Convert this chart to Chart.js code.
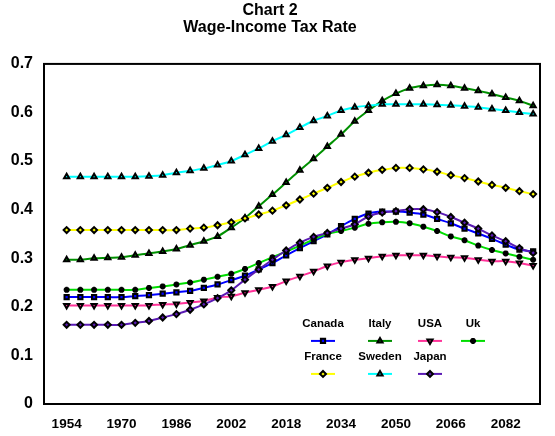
<!DOCTYPE html>
<html>
<head>
<meta charset="utf-8">
<script src="https://cdn.jsdelivr.net/npm/chart.js@4.4.1/dist/chart.umd.min.js"></script>
<style>
  html, body { margin: 0; padding: 0; background: #fff; }
</style>
</head>
<body>
<canvas id="stats" width="555" height="436"></canvas>
<script>
var years = [1954, 1958, 1962, 1966, 1970, 1974, 1978, 1982, 1986, 1990, 1994, 1998,
             2002, 2006, 2010, 2014, 2018, 2022, 2026, 2030, 2034, 2038, 2042, 2046,
             2050, 2054, 2058, 2062, 2066, 2070, 2074, 2078, 2082, 2086, 2090];
var tickYears = [1954, 1970, 1986, 2002, 2018, 2034, 2050, 2066, 2082];

var canada = [0.220, 0.220, 0.220, 0.220, 0.220, 0.222, 0.224, 0.227, 0.230, 0.233, 0.239, 0.246,
              0.255, 0.264, 0.277, 0.290, 0.306, 0.321, 0.335, 0.349, 0.366, 0.381, 0.392, 0.396,
              0.396, 0.394, 0.390, 0.381, 0.372, 0.361, 0.351, 0.340, 0.328, 0.318, 0.314];
var italy = [0.297, 0.297, 0.300, 0.301, 0.302, 0.306, 0.310, 0.314, 0.319, 0.327, 0.335, 0.345,
             0.363, 0.383, 0.407, 0.431, 0.456, 0.481, 0.505, 0.530, 0.555, 0.582, 0.604, 0.624,
             0.639, 0.650, 0.655, 0.657, 0.655, 0.650, 0.645, 0.638, 0.631, 0.624, 0.614];
var usa = [0.203, 0.203, 0.203, 0.203, 0.203, 0.203, 0.203, 0.205, 0.206, 0.209, 0.212, 0.219,
           0.222, 0.229, 0.235, 0.242, 0.253, 0.263, 0.273, 0.284, 0.292, 0.297, 0.300, 0.304,
           0.306, 0.306, 0.306, 0.304, 0.302, 0.301, 0.297, 0.294, 0.294, 0.290, 0.285];
var uk = [0.235, 0.235, 0.235, 0.235, 0.235, 0.235, 0.239, 0.242, 0.246, 0.250, 0.256, 0.262,
          0.268, 0.278, 0.290, 0.302, 0.314, 0.326, 0.339, 0.350, 0.356, 0.363, 0.371, 0.374,
          0.375, 0.372, 0.365, 0.356, 0.345, 0.337, 0.326, 0.317, 0.310, 0.303, 0.297];
var france = [0.358, 0.358, 0.358, 0.358, 0.358, 0.358, 0.358, 0.358, 0.358, 0.361, 0.363, 0.368,
              0.374, 0.382, 0.390, 0.398, 0.409, 0.421, 0.433, 0.445, 0.457, 0.468, 0.476, 0.482,
              0.486, 0.486, 0.483, 0.478, 0.471, 0.465, 0.458, 0.451, 0.445, 0.438, 0.432];
var sweden = [0.468, 0.468, 0.468, 0.468, 0.468, 0.468, 0.469, 0.471, 0.476, 0.480, 0.485, 0.492,
              0.500, 0.513, 0.526, 0.541, 0.554, 0.569, 0.583, 0.593, 0.604, 0.611, 0.614, 0.617,
              0.617, 0.617, 0.617, 0.616, 0.615, 0.613, 0.611, 0.607, 0.604, 0.600, 0.597];
var japan = [0.163, 0.163, 0.163, 0.163, 0.163, 0.167, 0.171, 0.178, 0.185, 0.194, 0.205, 0.218,
             0.234, 0.256, 0.277, 0.297, 0.316, 0.332, 0.344, 0.352, 0.361, 0.370, 0.386, 0.394,
             0.397, 0.401, 0.401, 0.395, 0.385, 0.373, 0.361, 0.347, 0.335, 0.321, 0.311];

var FONT = "'Liberation Sans', Arial, sans-serif";

function series(label, vals, color, style, rot, order) {
  return {
    label: label,
    data: years.map((y, i) => ({ x: y, y: vals[i] })),
    borderColor: color,
    backgroundColor: color,
    borderWidth: 2,
    tension: 0.35,
    pointStyle: style,
    pointRotation: rot,
    pointRadius: 3,
    pointBackgroundColor: color,
    pointBorderColor: '#000',
    pointBorderWidth: 2,
    order: order
  };
}

// frame round the plot area
var frame = {
  id: 'frame',
  beforeDatasetsDraw(chart) {
    var a = chart.chartArea, ctx = chart.ctx;
    ctx.save();
    ctx.strokeStyle = '#000';
    ctx.lineWidth = 2;
    ctx.strokeRect(a.left, a.top, a.right - a.left, a.bottom - a.top);
    ctx.restore();
  }
};

// legend inside the plot: name above a short line with the marker
var boxLegend = {
  id: 'boxLegend',
  afterDraw(chart) {
    var a = chart.chartArea, ctx = chart.ctx;
    var cols = [279, 336, 386, 429];
    var rows = [260, 293];
    ctx.save();
    ctx.font = 'bold 11.5px ' + FONT;
    ctx.textAlign = 'center';
    ctx.textBaseline = 'middle';
    chart.data.datasets.forEach(function (ds, i) {
      var cx = a.left + cols[i % 4];
      var ty = a.top + rows[Math.floor(i / 4)];
      var ly = ty + 17;
      ctx.fillStyle = '#000';
      ctx.fillText(ds.label, cx, ty);
      ctx.strokeStyle = ds.borderColor;
      ctx.lineWidth = 2;
      ctx.beginPath();
      ctx.moveTo(cx - 12, ly);
      ctx.lineTo(cx + 12, ly);
      ctx.stroke();
      ctx.fillStyle = ds.pointBackgroundColor;
      ctx.strokeStyle = '#000';
      ctx.lineWidth = 2;
      Chart.helpers.drawPoint(ctx, { pointStyle: ds.pointStyle, radius: 3, rotation: ds.pointRotation, borderWidth: 2 }, cx, ly);
    });
    ctx.restore();
  }
};

new Chart("stats", {
  type: "line",
  data: {
    datasets: [
      series('Canada', canada, '#0000ff', 'rect', 0, 7),
      series('Italy', italy, '#009000', 'triangle', 0, 6),
      series('USA', usa, '#ff3399', 'triangle', 180, 5),
      series('Uk', uk, '#00dd00', 'star', 0, 4),
      series('France', france, '#ffff00', 'rectRot', 0, 3),
      series('Sweden', sweden, '#00ffff', 'triangle', 0, 2),
      series('Japan', japan, '#5a1ab4', 'rectRot', 0, 1)
    ]
  },
  options: {
    responsive: false,
    animation: false,
    layout: { padding: { left: 0, right: 15, top: 0, bottom: 0 } },
    plugins: {
      legend: { display: false },
      tooltip: { enabled: false },
      title: {
        display: true,
        text: ['Chart 2', 'Wage-Income Tax Rate'],
        color: '#000',
        font: { family: FONT, size: 16, weight: 'bold', lineHeight: 1.06 },
        padding: { top: 2, bottom: 28 }
      }
    },
    scales: {
      x: {
        type: 'linear',
        min: 1947.4,
        max: 2092,
        grid: { display: false, drawTicks: false },
        border: { display: false },
        afterBuildTicks: function (scale) {
          scale.ticks = tickYears.map(v => ({ value: v }));
        },
        afterFit: function (scale) { scale.height = 32; },
        ticks: {
          autoSkip: false,
          maxRotation: 0,
          padding: 12,
          color: '#000',
          font: { family: FONT, size: 13.5, weight: 'bold' },
          callback: v => String(v)
        }
      },
      y: {
        min: 0,
        max: 0.7,
        grid: { display: false, drawTicks: false },
        border: { display: false },
        afterFit: function (scale) { scale.width = 44; },
        ticks: {
          stepSize: 0.1,
          padding: 11,
          color: '#000',
          font: { family: FONT, size: 16, weight: 'bold' },
          callback: v => v === 0 ? '0' : v.toFixed(1)
        }
      }
    }
  },
  plugins: [frame, boxLegend]
});
</script>
</body>
</html>
